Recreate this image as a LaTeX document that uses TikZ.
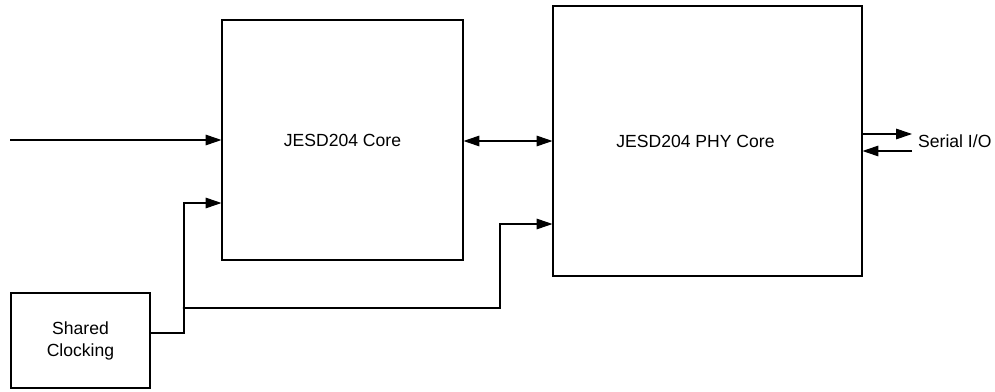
\documentclass[tikz,border=0pt]{standalone}
\usepackage{fontspec}
\setmainfont{Liberation Sans}
\usetikzlibrary{arrows.meta,positioning}

\begin{document}
\begin{tikzpicture}[
        x=0.02cm, y=-0.02cm,
        font=\fontsize{10}{12.5}\selectfont,
        blockNode/.style={rectangle, draw, line width=0.6pt, inner sep=0pt, align=center},
        sig/.style={line width=0.6pt, -{Triangle[length=9pt,width=6pt]}},
        bisig/.style={line width=0.6pt, {Triangle[length=9pt,width=6pt]}-{Triangle[length=9pt,width=6pt]}}
    ]
        \useasboundingbox (0,0) rectangle (995,392);

        % Blocks
        \node[blockNode, minimum width=241*0.02cm, minimum height=240*0.02cm] (core) at (342.5,140) {JESD204 Core};
        \node[blockNode, minimum width=309*0.02cm, minimum height=270*0.02cm,
              label={[xshift=-0.24cm]center:JESD204 PHY Core}] (phy) at (707.5,141) {};
        \node[blockNode, minimum width=139*0.02cm, minimum height=95*0.02cm] (clk) at (80.5,340.5) {Shared\\Clocking};

        % Free ends
        \coordinate (in) at (10,140);
        \coordinate (sioOut) at (912,134);
        \coordinate (sioIn) at (912,151);
        \coordinate (split) at (184,308);
        \node[right=0pt of sioOut, yshift=-4pt, anchor=west] (sio) {Serial I/O};

        % Data path
        \draw[sig] (in) -- (in -| core.west);
        \draw[bisig] (core.east |- 0,141) -- (phy.west |- 0,141);
        \draw[sig] (phy.east |- sioOut) -- (sioOut);
        \draw[sig] (sioIn) -- (phy.east |- sioIn);

        % Clocking
        \draw[sig] (clk.east |- 0,333) -| (split) |- (core.west |- 0,203);
        \draw[sig] (split) -- (500,308) |- (phy.west |- 0,224);
        \fill (split) circle (0.8pt);
    \end{tikzpicture}
\end{document}
